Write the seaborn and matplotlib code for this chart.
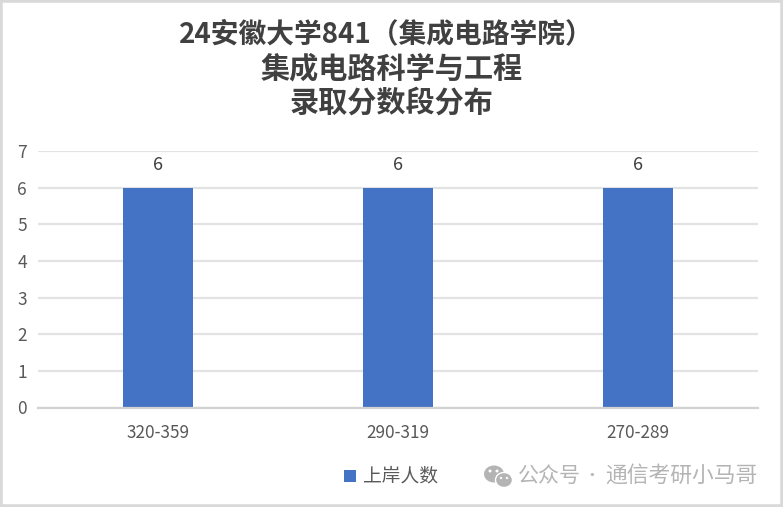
import matplotlib
matplotlib.use("Agg")
import matplotlib.pyplot as plt
from matplotlib.patches import Ellipse, Rectangle
import seaborn as sns
import pandas as pd

categories = ["320-359", "290-319", "270-289"]
values = [6, 6, 6]
series_name = "上岸人数"
title_lines = ["24安徽大学841（集成电路学院）", "集成电路科学与工程", "录取分数段分布"]
watermark_parts = ["公众号", "·", "通信考研小马哥"]

sns.set_theme(style="white")
plt.rcParams['font.family'] = ['Noto Sans CJK SC', 'DejaVu Sans']

W, H = 783, 507
fig = plt.figure(figsize=(W / 100, H / 100), dpi=100, facecolor="white")
ax = fig.add_axes([38 / W, 1 - 407.5 / H, 720 / W, 256.5 / H])

df = pd.DataFrame({"score": categories, "n": values})
sns.barplot(data=df, x="score", y="n", color="#4472C4", saturation=1, width=0.29,
            edgecolor="none", linewidth=0, ax=ax)

ax.set_xlim(-0.5, 2.5)
ax.set_ylim(0, 7)
ax.set_yticks(range(8))
ax.set_xlabel("")
ax.set_ylabel("")
ax.yaxis.grid(True, color="#E3E3E3", lw=1.6)
ax.set_axisbelow(True)
for s in ("top", "right", "left"):
    ax.spines[s].set_visible(False)
ax.spines["bottom"].set_color("#D2D2D2")
ax.spines["bottom"].set_linewidth(1.6)
ax.tick_params(axis="y", length=0, pad=8, labelsize=12.5, labelcolor="#595959")
ax.tick_params(axis="x", length=0, pad=12, labelsize=12.4, labelcolor="#595959")

for c in ax.containers:
    ax.bar_label(c, padding=10, fontsize=13, color="#404040")

# title, one text per line
for line, xpos, ypos, size in zip(title_lines, (386, 392, 391), (34.5, 68.5, 103), (20, 21, 21)):
    fig.text(xpos / W, 1 - ypos / H, line, ha="center", va="center",
             fontsize=size, color="#404040", fontweight="bold")

# legend
fig.patches.append(Rectangle((344 / W, 1 - 482 / H), 12 / W, 12 / H, transform=fig.transFigure,
                             color="#4472C4", lw=0))
fig.text(363 / W, 1 - 476 / H, series_name, ha="left", va="center", fontsize=13.5, color="#595959")

# watermark
grey = "#B4B4B4"
fig.text(518 / W, 1 - 476 / H, watermark_parts[0], ha="left", va="center", fontsize=15.1, color=grey)
fig.text(592 / W, 1 - 476 / H, watermark_parts[1], ha="center", va="center", fontsize=12, color=grey)
fig.text(605 / W, 1 - 476 / H, watermark_parts[2], ha="left", va="center", fontsize=15.7, color=grey)
fig.patches.append(Ellipse((494 / W, 1 - 474 / H), 20 / W, 17 / H, transform=fig.transFigure, color=grey, lw=0))
fig.patches.append(Ellipse((504 / W, 1 - 480 / H), 17 / W, 15 / H, transform=fig.transFigure,
                           facecolor=grey, edgecolor="white", lw=1))
for ex, ey, er in ((490, 471, 3), (497, 471, 3), (501, 478, 2.4), (507, 478, 2.4)):
    fig.patches.append(Ellipse((ex / W, 1 - ey / H), er / W, er / H, transform=fig.transFigure,
                               color="white", lw=0))

# outer frame
fig.patches.append(Rectangle((0, 0), 1, 1, transform=fig.transFigure, fill=False,
                             edgecolor="#D9D9D9", lw=4))

fig.savefig("out.png", dpi=100, facecolor="white")
